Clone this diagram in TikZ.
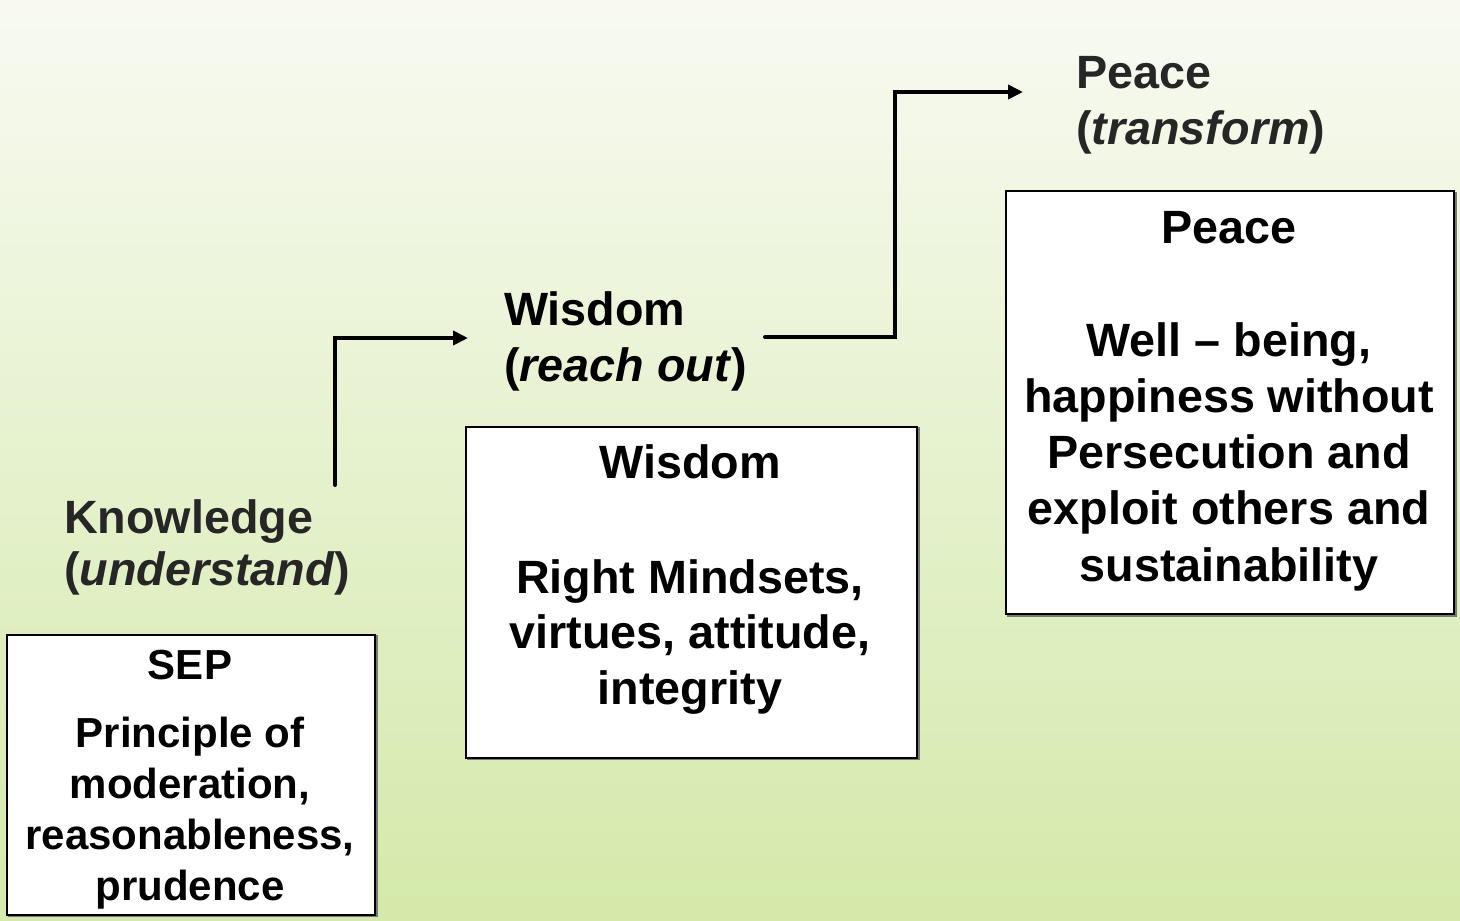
\documentclass[tikz,border=0pt]{standalone}
\usepackage{fontspec}
\setmainfont{Liberation Sans}
\usetikzlibrary{arrows.meta}
\definecolor{bgtop}{RGB}{248,250,242}
\definecolor{bgbot}{RGB}{212,233,170}
\definecolor{darktxt}{RGB}{38,38,38}
\definecolor{shadowc}{RGB}{120,120,120}
\tikzset{
  big/.style={inner sep=0pt, font=\bfseries\fontsize{46.7}{53}\selectfont},
  mid/.style={inner sep=0pt, font=\bfseries\fontsize{42}{48}\selectfont},
  lblline/.style={big, anchor=base west},
  boxline/.style={big, anchor=base},
  sepline/.style={mid, anchor=base},
  boxst/.style={draw=black, line width=2pt, fill=white, inner sep=0pt, anchor=north west},
  shadowst/.style={draw=shadowc, line width=2pt, inner sep=0pt, anchor=north west},
  conn/.style={line width=4pt, line cap=round, -{Triangle[length=15pt,width=14pt]}},
}
\begin{document}
\begin{tikzpicture}[x=1pt,y=-1pt]
\useasboundingbox (0,0) rectangle (1460,921);
\shade[top color=bgtop, bottom color=bgbot] (0,0) rectangle (1460,921);

% boxes (with slight shadow)
\node[shadowst, minimum width=368pt, minimum height=280pt] (sepsh) at (7.5,635) {};
\node[boxst, minimum width=368pt, minimum height=280pt] (sepbox) at (6,633.5) {};
\node[shadowst, minimum width=451pt, minimum height=331pt] (wissh) at (466.5,427) {};
\node[boxst, minimum width=451pt, minimum height=331pt] (wisbox) at (465,425.5) {};
\node[shadowst, minimum width=448pt, minimum height=423pt] (peash) at (1006.5,191.5) {};
\node[boxst, minimum width=448pt, minimum height=423pt] (peabox) at (1005,190) {};

% labels above boxes
\node[lblline, text=darktxt] (know1) at (64,533) {Knowledge};
\node[lblline, text=darktxt] (know2) at (64,585) {(\textit{understand})};
\node[lblline] (wis1) at (504,325) {Wisdom};
\node[lblline] (wis2) at (504,381) {(\textit{reach out})};
\node[lblline, text=darktxt] (pea1) at (1076,88) {Peace};
\node[lblline, text=darktxt] (pea2) at (1076,144) {(\textit{transform})};

% SEP box text
\node[sepline] (sep0) at (190,679) {SEP};
\node[sepline] (sep1) at (190,747) {Principle of};
\node[sepline] (sep2) at (190,798) {moderation,};
\node[sepline] (sep3) at (190,849) {reasonableness,};
\node[sepline] (sep4) at (190,900) {prudence};

% Wisdom box text
\node[boxline] (wb0) at (690,478) {Wisdom};
\node[boxline] (wb1) at (690,593) {Right Mindsets,};
\node[boxline] (wb2) at (690,648) {virtues, attitude,};
\node[boxline] (wb3) at (690,704) {integrity};

% Peace box text
\node[boxline] (pb0) at (1229,243) {Peace};
\node[boxline] (pb1) at (1229,356) {Well -- being,};
\node[boxline] (pb2) at (1229,412) {happiness without};
\node[boxline] (pb3) at (1229,468) {Persecution and};
\node[boxline] (pb4) at (1229,524) {exploit others and};
\node[boxline] (pb5) at (1229,581) {sustainability};

% connectors
\coordinate (a1s) at (335,485);
\coordinate (a1e) at (468,338);
\coordinate (a2s) at (765,337);
\coordinate (a2m) at (895,92);
\coordinate (a2e) at (1023,92);
\draw[conn] (a1s) |- (a1e);
\draw[conn] (a2s) -| (a2m) -- (a2e);
\end{tikzpicture}
\end{document}
